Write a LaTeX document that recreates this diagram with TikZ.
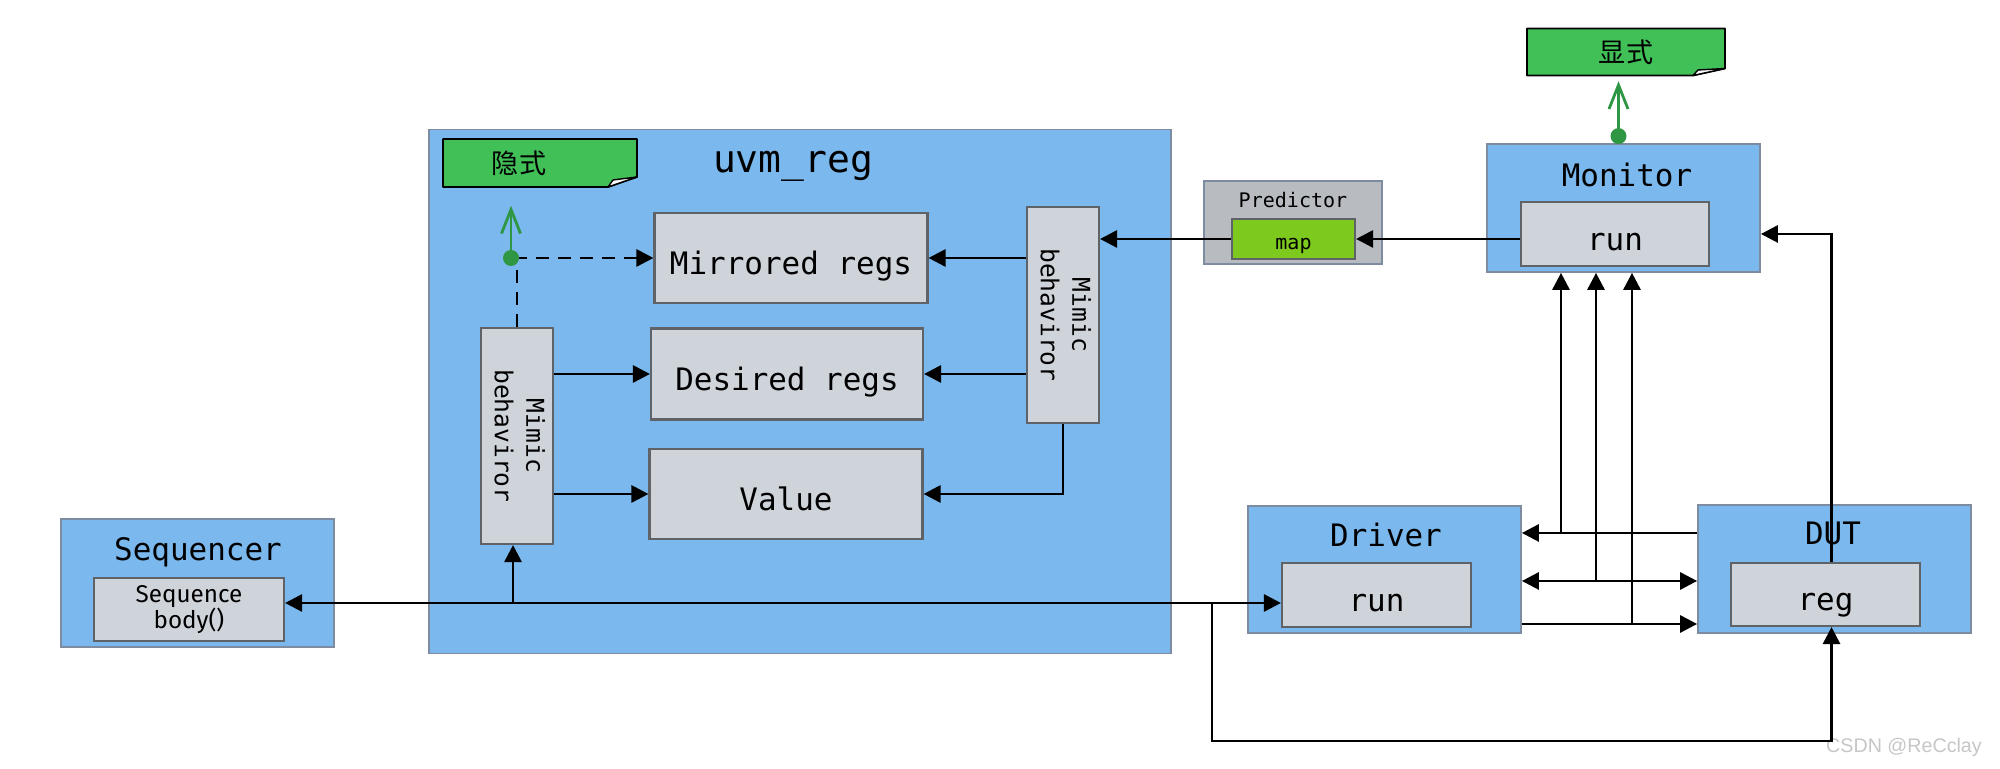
\documentclass[tikz,border=0pt]{standalone}
\usepackage{fontspec}
\setmainfont{DejaVu Sans}
\setmonofont{DejaVu Sans Mono}
\newfontfamily\cjkfont{Noto Sans CJK SC}
\newfontfamily\seqfont{Fira Sans}
\newfontfamily\markfont{Liberation Sans}
\usepackage{xcolor}
\usepackage{graphicx}
\usepackage{tikz}
\usetikzlibrary{arrows.meta, positioning, calc}

\definecolor{compblue}{RGB}{122,184,237}
\definecolor{compedge}{RGB}{125,140,160}
\definecolor{reggray}{RGB}{207,212,219}
\definecolor{regedge}{RGB}{95,99,104}
\definecolor{predgray}{RGB}{184,188,193}
\definecolor{mapgreen}{RGB}{126,201,30}
\definecolor{notegreen}{RGB}{64,192,87}
\definecolor{pingreen}{RGB}{47,150,68}

\begin{document}
\begin{tikzpicture}[
    font=\ttfamily,
    comp/.style={rectangle, draw=compedge, line width=0.5pt, fill=compblue, minimum width=2.73cm, minimum height=1.28cm, inner sep=0pt},
    regbox/.style={rectangle, draw=regedge, line width=0.6pt, fill=reggray, minimum width=1.89cm, minimum height=0.64cm, inner sep=0pt, text height=0.92em, text depth=0pt, font=\ttfamily\fontsize{8.8}{10}\selectfont},
    bigreg/.style={regbox, minimum width=2.73cm, minimum height=0.90cm},
    mimicbox/.style={rectangle, draw=regedge, line width=0.6pt, fill=reggray, minimum width=0.72cm, minimum height=2.16cm, inner sep=0pt, font=\ttfamily\fontsize{7}{9}\selectfont},
    seqbox/.style={rectangle, draw=regedge, line width=0.6pt, fill=reggray, minimum width=1.90cm, minimum height=0.63cm, inner sep=0pt, align=center, font=\seqfont\fontsize{6.9}{7.5}\selectfont},
    compname/.style={inner sep=0pt, font=\ttfamily\fontsize{8.8}{10}\selectfont},
    predbox/.style={rectangle, draw=compedge, line width=0.4pt, fill=predgray, minimum width=1.78cm, minimum height=0.83cm, inner sep=0pt},
    mapbox/.style={rectangle, draw=regedge, line width=0.6pt, fill=mapgreen, minimum width=1.23cm, minimum height=0.40cm, inner sep=0pt, text height=0.6em, text depth=0pt, font=\ttfamily\fontsize{5.7}{7}\selectfont},
    notefill/.style={fill=notegreen, draw=black, line width=0.5pt, line join=round},
    notefold/.style={fill=white, draw=black, line width=0.4pt, line join=round},
    notetext/.style={inner sep=0pt, font=\cjkfont\fontsize{7.7}{9}\selectfont},
    flow/.style={-{Triangle[length=0.17cm, width=0.17cm]}, line width=0.8pt},
    biflow/.style={{Triangle[length=0.17cm, width=0.17cm]}-{Triangle[length=0.17cm, width=0.17cm]}, line width=0.8pt},
    dashflow/.style={flow, dash pattern=on 0.13cm off 0.09cm},
    pin/.style={-{Straight Barb[length=0.24cm, width=0.19cm]}, draw=pingreen, line width=0.8pt},
    pindot/.style={fill=pingreen}
]
\useasboundingbox (0,0) rectangle (20,7.69);

% uvm_reg block
\node[comp, minimum width=7.42cm, minimum height=5.24cm] (uvmreg) at (8.00,3.775) {};
\node[compname, font=\ttfamily\fontsize{10.8}{12}\selectfont] (uvmname) at (7.93,6.03) {uvm\_reg};

\coordinate (n1) at (5.40,6.06);
\filldraw[notefill] ($(n1)+(-0.97,0.24)$) -- ($(n1)+(0.97,0.24)$) -- ($(n1)+(0.97,-0.14)$) -- ($(n1)+(0.68,-0.24)$) -- ($(n1)+(-0.97,-0.24)$) -- cycle;
\filldraw[notefold] ($(n1)+(0.68,-0.24)$) -- ($(n1)+(0.97,-0.14)$) -- ($(n1)+(0.73,-0.17)$) -- cycle;
\node[notetext, minimum width=1.94cm, minimum height=0.48cm] (note1) at (n1) {隐式\hspace*{0.42cm}};

\node[bigreg] (mirrored) at (7.91,5.11) {Mirrored regs};
\node[bigreg, minimum width=2.72cm, minimum height=0.91cm] (desired) at (7.87,3.95) {Desired regs};
\node[bigreg] (value) at (7.86,2.75) {Value};

\node[mimicbox] (lmimic) at (5.17,3.33) {\rotatebox{-90}{\begin{tabular}{@{}c@{}}Mimic\\behaviror\end{tabular}}};
\node[mimicbox] (rmimic) at (10.63,4.54) {\rotatebox{-90}{\begin{tabular}{@{}c@{}}Mimic\\behaviror\end{tabular}}};

% Predictor
\node[predbox] (predictor) at (12.93,5.465) {};
\node[inner sep=0pt, font=\ttfamily\fontsize{5.7}{7}\selectfont] (predname) at (12.93,5.69) {Predictor};
\node[mapbox] (map) at (12.935,5.30) {map};

% Monitor
\node[comp] (monitor) at (16.235,5.61) {};
\node[compname] (monname) at (16.27,5.94) {Monitor};
\node[regbox, minimum width=1.88cm] (monrun) at (16.15,5.35) {run};

\coordinate (n2) at (16.26,7.17);
\filldraw[notefill] ($(n2)+(-0.99,0.235)$) -- ($(n2)+(0.99,0.235)$) -- ($(n2)+(0.99,-0.165)$) -- ($(n2)+(0.67,-0.235)$) -- ($(n2)+(-0.99,-0.235)$) -- cycle;
\filldraw[notefold] ($(n2)+(0.67,-0.235)$) -- ($(n2)+(0.99,-0.165)$) -- ($(n2)+(0.72,-0.18)$) -- cycle;
\node[notetext, minimum width=1.98cm, minimum height=0.47cm] (note2) at (n2) {显式};

% Sequencer, Driver, DUT
\node[comp] (sequencer) at (1.975,1.86) {};
\node[compname] (seqname) at (1.98,2.17) {Sequencer};
\node[seqbox] (seqbody) at (1.89,1.595) {Sequence\\body()};

\node[comp, minimum height=1.27cm] (driver) at (13.845,1.995) {};
\node[compname] (drvname) at (13.86,2.34) {Driver};
\node[regbox] (drvrun) at (13.765,1.74) {run};

\node[comp] (dut) at (18.345,2.00) {};
\node[compname] (dutname) at (18.33,2.36) {DUT};
\node[regbox, minimum height=0.63cm] (dutreg) at (18.255,1.745) {reg};

\node[inner sep=0pt, text=gray!45, font=\markfont\fontsize{5.6}{6}\selectfont] (mark) at (19.04,0.22) {CSDN @ReCclay};

% inside uvm_reg
\coordinate (dot1) at ([xshift=-0.06cm]lmimic.north |- mirrored.west);
\draw[dashflow] (lmimic.north) -- (lmimic.north |- mirrored.west) -- (mirrored.west);
\draw[pin, shorten >=0.18cm] (dot1) -- (dot1 |- note1.south);
\fill[pindot] (dot1) circle (0.08);

\draw[flow] (lmimic.east |- desired) -- (desired.west);
\draw[flow] (lmimic.east |- value) -- (value.west);
\draw[flow] (rmimic.west |- mirrored) -- (mirrored.east);
\draw[flow] (rmimic.west |- desired) -- (desired.east);
\draw[flow] (rmimic.south) |- (value.east);

% monitor path
\draw[flow] (map.west) -- (rmimic.east |- map);
\draw[flow] (monrun.west |- map) -- (map.east);
\coordinate (dot2) at ([xshift=-0.05cm, yshift=0.07cm]monitor.north);
\draw[pin, shorten >=0.05cm] (dot2) -- (dot2 |- note2.south);
\fill[pindot] (dot2) circle (0.08);

% sequence bus
\coordinate (busA) at (5.13,1.66);
\coordinate (busB) at (12.12,1.66);
\draw[biflow] (seqbody.east |- busA) -- (drvrun.west |- busA);
\draw[flow] (busA) -- (busA |- lmimic.south);
\draw[flow] (busB) -- ++(0,-1.38) -| ([xshift=0.06cm]dutreg.south);

% driver / dut / monitor
\coordinate (tapA) at (15.61,2.36);
\coordinate (tapB) at (15.96,1.88);
\coordinate (tapC) at (16.32,1.45);
\draw[flow] (dut.west |- tapA) -- (driver.east |- tapA);
\draw[biflow] (driver.east |- tapB) -- (dut.west |- tapB);
\draw[flow] (driver.east |- tapC) -- (dut.west |- tapC);
\draw[flow] (tapA) -- (tapA |- monitor.south);
\draw[flow] (tapB) -- (tapB |- monitor.south);
\draw[flow] (tapC) -- (tapC |- monitor.south);
\draw[flow] ([xshift=0.06cm]dutreg.north) |- (monitor.east |- monrun);

\end{tikzpicture}
\end{document}
